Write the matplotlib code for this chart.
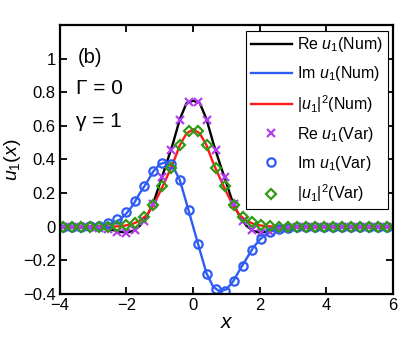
import numpy as np
import matplotlib
matplotlib.use("Agg")
import matplotlib.pyplot as plt

plt.rcParams['font.family'] = ['Liberation Sans', 'DejaVu Sans']
plt.rcParams['mathtext.fontset'] = 'custom'
plt.rcParams['mathtext.rm'] = 'Liberation Sans'
plt.rcParams['mathtext.it'] = 'Liberation Sans:italic'

# numerical curves, x = -4 ... 6 step 0.2
x_num = np.round(np.arange(-4.0, 6.01, 0.2), 2)
re_num = [0, 0, 0, 0, -0.001, -0.003, -0.006, -0.012, -0.02, -0.03,
          -0.035, -0.025, 0.005, 0.06, 0.137, 0.258, 0.376, 0.50, 0.64, 0.735,
          0.75,
          0.735, 0.64, 0.50, 0.376, 0.258, 0.137, 0.06, 0.005, -0.025, -0.035,
          -0.03, -0.02, -0.012, -0.006, -0.003, -0.001, 0, 0, 0, 0,
          0, 0, 0, 0, 0, 0, 0, 0, 0, 0]
im_num = [0, 0, 0, 0, 0.001, 0.003, 0.006, 0.012, 0.022, 0.042,
          0.08, 0.13, 0.20, 0.26, 0.328, 0.372, 0.386, 0.357, 0.277, 0.14,
          0.0,
          -0.14, -0.277, -0.357, -0.386, -0.372, -0.325, -0.255, -0.19, -0.125, -0.076,
          -0.042, -0.022, -0.012, -0.006, -0.003, -0.001, 0, 0, 0, 0,
          0, 0, 0, 0, 0, 0, 0, 0, 0, 0]
abs_num = [0, 0, 0, 0, 0, 0, 0, 0, 0.001, 0.003,
           0.008, 0.018, 0.036, 0.068, 0.125, 0.205, 0.29, 0.38, 0.485, 0.555,
           0.58,
           0.555, 0.485, 0.38, 0.29, 0.205, 0.125, 0.068, 0.036, 0.018, 0.008,
           0.003, 0.001, 0, 0, 0, 0, 0, 0, 0, 0,
           0, 0, 0, 0, 0, 0, 0, 0, 0, 0]

# variational points
x_var = np.round(np.arange(-3.915, 5.9, 0.27), 3)
re_var = [0, 0, 0, -0.002, -0.006, -0.015, -0.03, -0.035, -0.022, 0.035,
          0.137, 0.298, 0.455, 0.637, 0.745,
          0.745, 0.637, 0.455, 0.298, 0.137, 0.035, -0.022, -0.035, -0.03, -0.015,
          -0.006, -0.002, 0, 0, 0, 0, 0, 0, 0, 0, 0, 0]
im_var = [0, 0, 0, 0.002, 0.006, 0.02, 0.043, 0.088, 0.153, 0.24,
          0.33, 0.38, 0.376, 0.28, 0.10,
          -0.10, -0.28, -0.372, -0.38, -0.325, -0.235, -0.14, -0.075, -0.03, -0.012,
          -0.005, -0.002, 0, 0, 0, 0, 0, 0, 0, 0, 0, 0]
abs_var = [0, 0, 0, 0, 0, 0.001, 0.004, 0.01, 0.024, 0.06,
           0.13, 0.24, 0.35, 0.484, 0.567,
           0.567, 0.484, 0.35, 0.24, 0.13, 0.06, 0.028, 0.012, 0.004, 0.001,
           0, 0, 0, 0, 0, 0, 0, 0, 0, 0, 0, 0]

c_blue = '#2f5cf5'
c_purple = '#b13ef0'
c_green = '#2f9a12'

fig = plt.figure(figsize=(4.07, 3.43), dpi=100)
ax = fig.add_axes([0.147, 0.143, 0.819, 0.784])

ax.plot(x_num, re_num, color='black', lw=1.7, label=r'Re $u_1$(Num)')
ax.plot(x_num, im_num, color=c_blue, lw=1.7, label=r'Im $u_1$(Num)')
ax.plot(x_num, abs_num, color='#ff1a1a', lw=1.7, label=r'$|u_1|^2$(Num)')
ax.plot(x_var, re_var, 'x', color=c_purple, ms=6, mew=1.6, ls='none',
        label=r'Re $u_1$(Var)')
ax.plot(x_var, im_var, 'o', mfc='none', mec=c_blue, ms=6, mew=1.6, ls='none',
        label=r'Im $u_1$(Var)')
ax.plot(x_var, abs_var, 'D', mfc='none', mec=c_green, ms=5, mew=1.6, ls='none',
        label=r'$|u_1|^2$(Var)')

ax.set_xlim(-4, 6)
ax.set_ylim(-0.4, 1.2)
ax.set_xticks([-4, -2, 0, 2, 4, 6])
ax.set_xticklabels(['\u22124', '\u22122', '0', '2', '4', '6'])
ax.set_yticks([-0.4, -0.2, 0, 0.2, 0.4, 0.6, 0.8, 1.0])
ax.set_yticklabels(['\u22120.4', '\u22120.2', '0', '0.2', '0.4', '0.6', '0.8', '1'])
ax.tick_params(direction='in', length=5, width=1.3, labelsize=12,
               top=True, right=True, pad=3)
for s in ax.spines.values():
    s.set_linewidth(1.6)

ax.set_xlabel(r'$x$', fontsize=15, labelpad=0)
ax.set_ylabel(r'$u_1(x)$', fontsize=14, labelpad=0)

ax.text(0.054, 0.86, '(b)', transform=ax.transAxes, fontsize=14.5)
ax.text(0.05, 0.745, '\u0393 = 0', transform=ax.transAxes, fontsize=15)
ax.text(0.05, 0.62, '\u03b3 = 1', transform=ax.transAxes, fontsize=15)

leg = ax.legend(loc='upper right', fontsize=11.5, numpoints=1, fancybox=False,
                framealpha=1, edgecolor='black', borderaxespad=0.35,
                handlelength=2.6, handletextpad=0.3, labelspacing=0.62,
                borderpad=0.3)
leg.get_frame().set_linewidth(0.8)

fig.savefig('out.png', dpi=100)
